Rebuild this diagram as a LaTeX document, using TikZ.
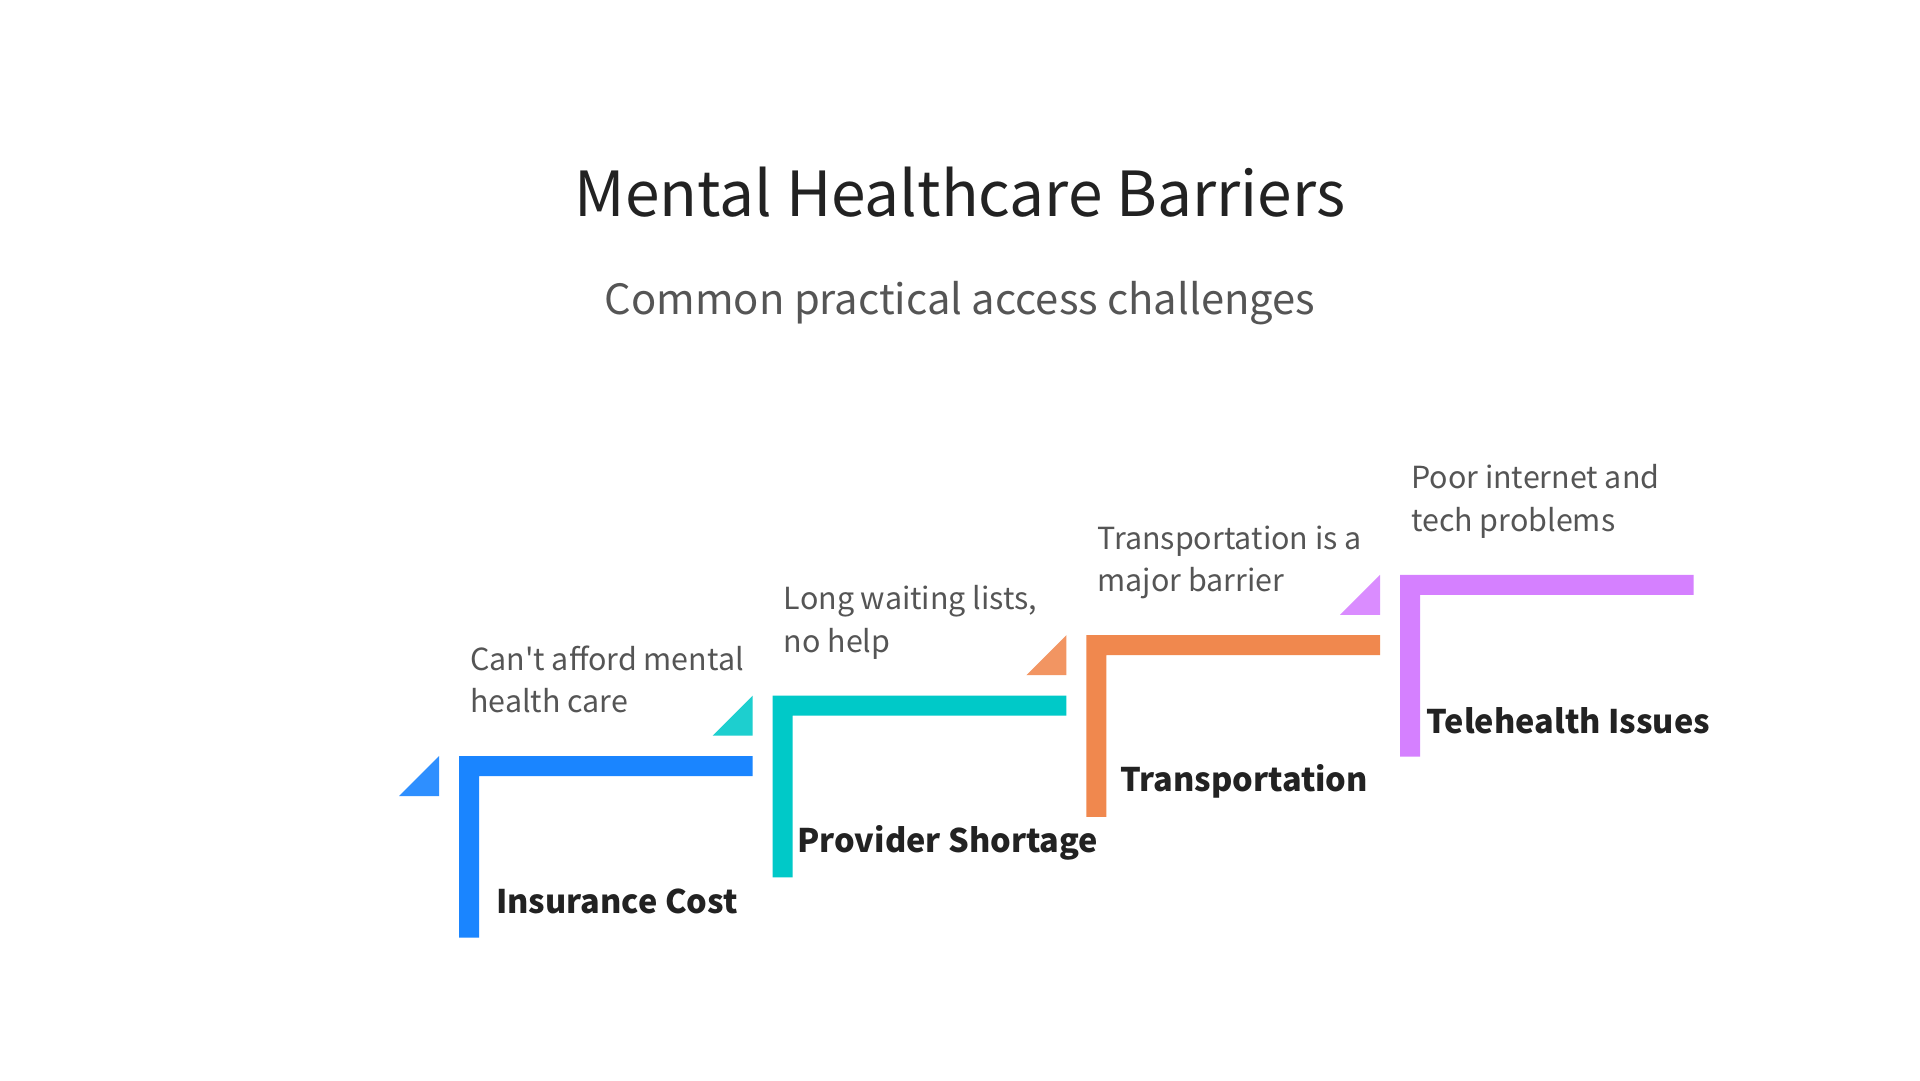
\documentclass[tikz,border=0pt]{standalone}
\usepackage{fontspec}
\setmainfont{Noto Sans CJK SC}[Ligatures=TeXOff]
\definecolor{cblue}{HTML}{1A85FF}
\definecolor{cblueT}{HTML}{2E8FFF}
\definecolor{cteal}{HTML}{00C9C8}
\definecolor{ctealT}{HTML}{1DCFCF}
\definecolor{corange}{HTML}{F0884E}
\definecolor{corangeT}{HTML}{F29562}
\definecolor{cpurple}{HTML}{D580FF}
\definecolor{cpurpleT}{HTML}{DA8CFF}
\definecolor{ctitle}{HTML}{222222}
\definecolor{csub}{HTML}{555555}
\tikzset{
  titletext/.style={anchor=base, inner sep=0pt, text=ctitle, font=\fontsize{62.2}{72}\selectfont},
  subtext/.style={anchor=base, inner sep=0pt, text=csub, font=\fontsize{41.7}{48}\selectfont},
  desctext/.style={anchor=base west, inner sep=0pt, text=csub, font=\fontsize{30.4}{42.7}\selectfont},
  labeltext/.style={anchor=base west, inner sep=0pt, text=ctitle, font=\fontsize{32.5}{40}\selectfont\bfseries},
}
\newcommand{\stepL}[3]{% x, y (top-left), colour
  \fill[#3] (#1,#2) -- ++(293.7,0) -- ++(0,20) -- ++(-273.7,0) -- ++(0,161.7) -- ++(-20,0) -- cycle;}
\newcommand{\stepT}[3]{% x, y of the L, colour
  \fill[#3] (#1-60,#2+40) -- (#1-20,#2) -- (#1-20,#2+40) -- cycle;}
\begin{document}
\begin{tikzpicture}[x=1pt,y=-1pt]
\useasboundingbox[fill=white] (0,0) rectangle (1920,1080);
\node[titletext] (title) at (960,216.7) {Mental Healthcare Barriers};
\node[subtext] (subtitle) at (960,314.7) {Common practical access challenges};

% step 1
\stepT{459}{756}{cblueT}
\stepL{459}{756}{cblue}
\node[desctext] (d1) at (470,670) {\vtop{\hbox{Can't afford mental}\hbox{health care}}};
\node[labeltext] (l1) at (496,913) {Insurance Cost};

% step 2
\stepT{772.7}{695.6}{ctealT}
\stepL{772.7}{695.6}{cteal}
\node[desctext] (d2) at (783.7,609.6) {\vtop{\hbox{Long waiting lists,}\hbox{no help}}};
\node[labeltext] (l2) at (797.3,852.3) {Provider Shortage};

% step 3
\stepT{1086.4}{635.2}{corangeT}
\stepL{1086.4}{635.2}{corange}
\node[desctext] (d3) at (1097.4,549.2) {\vtop{\hbox{Transportation is a}\hbox{major barrier}}};
\node[labeltext] (l3) at (1120,791.9) {Transportation};

% step 4
\stepT{1400}{574.8}{cpurpleT}
\stepL{1400}{574.8}{cpurple}
\node[desctext] (d4) at (1411,488.8) {\vtop{\hbox{Poor internet and}\hbox{tech problems}}};
\node[labeltext] (l4) at (1426.7,733.3) {Telehealth Issues};
\end{tikzpicture}
\end{document}
